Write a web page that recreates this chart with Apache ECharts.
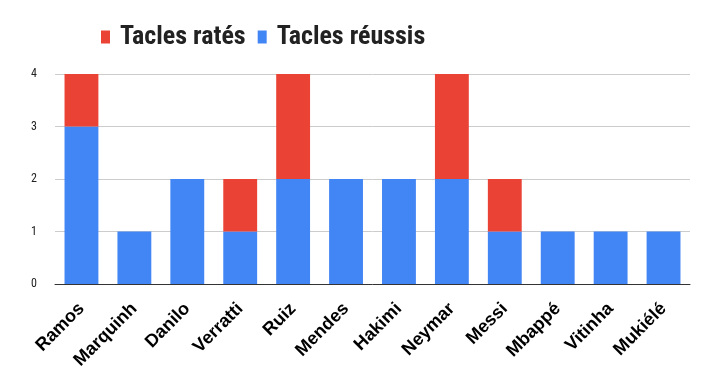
<!DOCTYPE html>
<html><head><meta charset="utf-8">
<script src="https://cdn.jsdelivr.net/npm/echarts@6/dist/echarts.min.js"></script>
<style>html,body{margin:0;padding:0;background:#fff}#c{width:718px;height:389px}</style>
</head><body><div id="c"></div>
<script>
const categories = ['Ramos','Marquinh','Danilo','Verratti','Ruiz','Mendes','Hakimi','Neymar','Messi','Mbappé','Vitinha','Mukiélé'];
const reussis = [3,1,2,1,2,2,2,2,1,1,1,1];
const rates = [1,0,0,1,2,0,0,2,1,0,0,0];
const yTicks = [0,1,2,3,4];

const chart = echarts.init(document.getElementById('c'));
chart.setOption({
  animation:false,
  legend:{
    data:['Tacles ratés','Tacles réussis'],
    top:19, left:96,
    itemWidth:9, itemHeight:13, itemGap:12,
    icon:'rect',
    textStyle:{fontFamily:'"Roboto Condensed"', fontWeight:'bold', fontSize:26, color:'#222', padding:[0,0,0,5]}
  },
  grid:{left:55,right:28,top:74,bottom:105},
  xAxis:{
    type:'category', data:categories,
    axisLine:{lineStyle:{color:'#333',width:1}},
    axisTick:{show:false},
    axisLabel:{rotate:45, interval:0, hideOverlap:false, fontFamily:'"Liberation Sans"', fontWeight:'bold', fontSize:18, color:'#000', margin:22}
  },
  yAxis:{
    type:'value', min:yTicks[0], max:yTicks[yTicks.length-1], interval:1,
    axisLine:{show:false}, axisTick:{show:false},
    splitLine:{lineStyle:{color:'#ccc'}},
    axisLabel:{fontFamily:'"Roboto Condensed"', fontSize:12, color:'#222', margin:18}
  },
  series:[
    {name:'Tacles réussis', type:'bar', stack:'t', data:reussis, barWidth:'64%', itemStyle:{color:'#4285f4'}},
    {name:'Tacles ratés', type:'bar', stack:'t', data:rates, barWidth:'64%', itemStyle:{color:'#ea4335'}}
  ]
});
</script></body></html>
